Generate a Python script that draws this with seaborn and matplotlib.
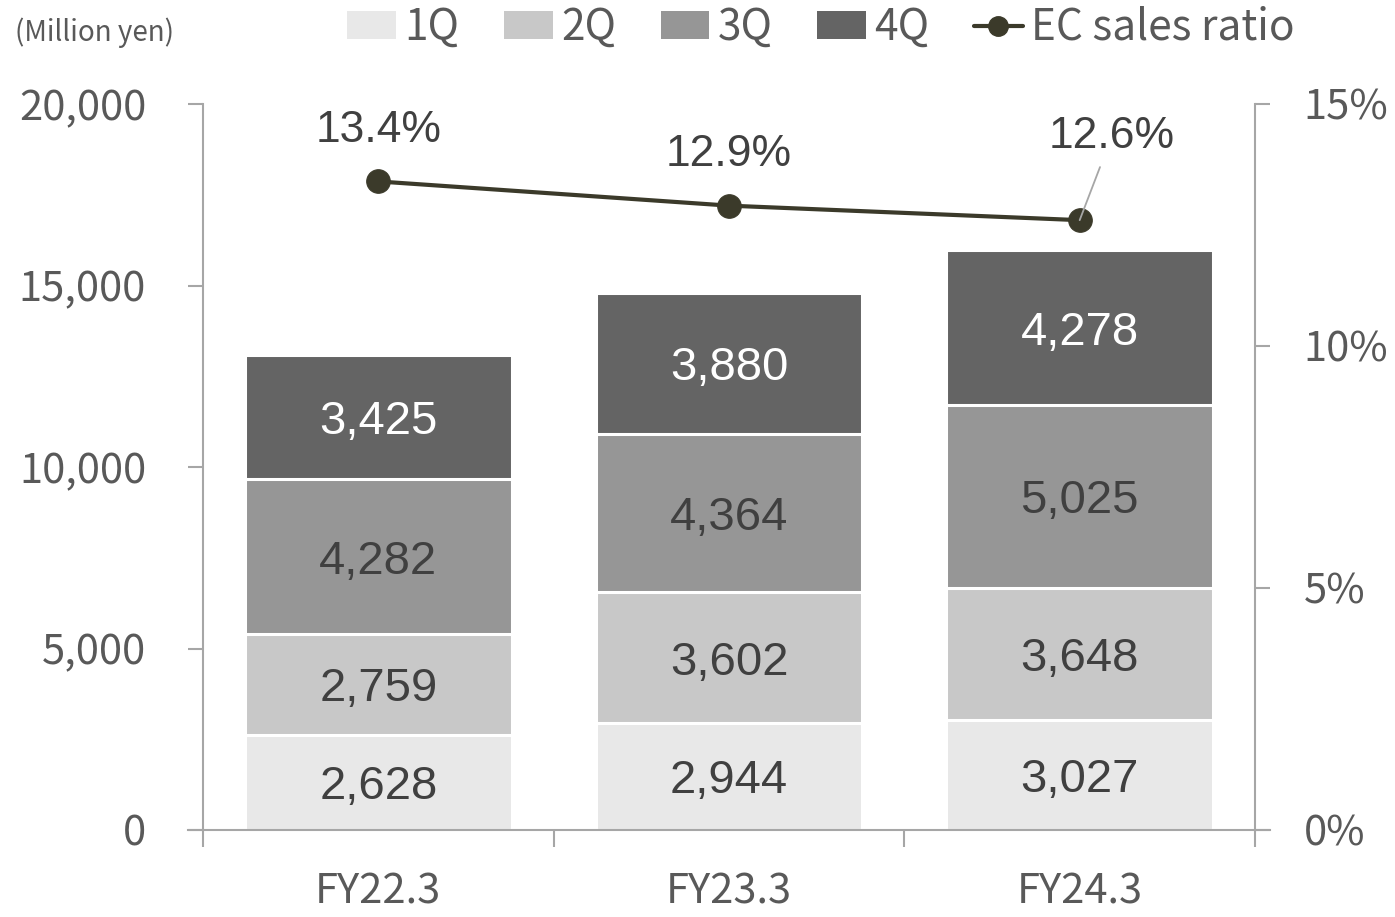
import numpy as np
import pandas as pd
import matplotlib
matplotlib.use("Agg")
import matplotlib.pyplot as plt
import seaborn as sns
from matplotlib.patches import Patch
from matplotlib.lines import Line2D

# --- data -------------------------------------------------------------
fiscal_years = ["FY22.3", "FY23.3", "FY24.3"]
quarters = ["1Q", "2Q", "3Q", "4Q"]
sales_1q = [2628, 2944, 3027]
sales_2q = [2759, 3602, 3648]
sales_3q = [4282, 4364, 5025]
sales_4q = [3425, 3880, 4278]
ec_ratio = [13.4, 12.9, 12.6]
yticks_left = [0, 5000, 10000, 15000, 20000]
yticks_right = [0, 5, 10, 15]

quarter_colors = ["#e8e8e8", "#c8c8c8", "#969696", "#646464"]
label_colors = ["#404040", "#404040", "#404040", "#ffffff"]
line_color = "#3b3a2a"
axis_grey = "#a6a6a6"
text_grey = "#595959"

sns.set_theme(style="white")
plt.rcParams["font.family"] = ["Noto Sans CJK JP", "DejaVu Sans"]

df = pd.DataFrame({"year": fiscal_years, "1Q": sales_1q, "2Q": sales_2q,
                   "3Q": sales_3q, "4Q": sales_4q})
cum = df[quarters].cumsum(axis=1)

fig = plt.figure(figsize=(13.95, 9.17), dpi=100)
ax = fig.add_axes([203 / 1395, 87 / 917, 1052 / 1395, 726 / 917])

# stacked bars: draw cumulative totals from the top segment down
for q, color in reversed(list(zip(quarters, quarter_colors))):
    sns.barplot(data=cum.assign(year=df["year"]), x="year", y=q, ax=ax,
                color=color, width=0.76, edgecolor="white", linewidth=2.2,
                saturation=1, order=fiscal_years)

# segment value labels
for i in range(len(fiscal_years)):
    base = 0
    for q, tc in zip(quarters, label_colors):
        v = df.loc[i, q]
        ax.annotate(f"{v:,}", (i, base + v / 2), xytext=(0, -3.5),
                    textcoords="offset points", ha="center", va="center",
                    fontsize=34, color=tc, family="Liberation Sans")
        base += v

ax.set_xlim(-0.5, 2.5)
ax.set_ylim(0, 20000)
ax.set_xlabel("")
ax.set_ylabel("")
ax.set_yticks(yticks_left)
ax.set_yticklabels([f"{t:,}" for t in yticks_left])
ax.set_xticks(range(len(fiscal_years)))
ax.set_xticklabels(fiscal_years)
ax.set_xticks([-0.5, 0.5, 1.5, 2.5], minor=True)
ax.tick_params(axis="x", which="major", length=0, pad=30, labelsize=30,
               labelcolor=text_grey)
ax.tick_params(axis="x", which="minor", length=12, width=1.5, color=axis_grey,
               direction="out", bottom=True)
ax.tick_params(axis="y", which="major", length=11, width=1.5, color=axis_grey,
               direction="out", left=True, pad=30, labelsize=30,
               labelcolor=text_grey)
for s in ["left", "bottom"]:
    ax.spines[s].set_color(axis_grey)
    ax.spines[s].set_linewidth(1.5)
ax.spines["top"].set_visible(False)
ax.spines["right"].set_visible(False)
ax.spines["bottom"].set_bounds(-0.5 - 15 / 1052 * 3, 2.5 + 15 / 1052 * 3)

# EC sales ratio on the secondary axis
ax2 = ax.twinx()
xpos = np.arange(len(fiscal_years))
sns.lineplot(x=xpos, y=ec_ratio, ax=ax2, color=line_color, linewidth=3,
             marker="o", markersize=17, markeredgecolor=line_color)
ax2.set_ylim(0, 15)
ax2.set_yticks(yticks_right)
ax2.set_yticklabels([f"{t}%" for t in yticks_right])
ax2.tick_params(axis="y", length=11, width=1.5, color=axis_grey,
                direction="out", right=True, pad=24, labelsize=30,
                labelcolor=text_grey)
for s in ["left", "top", "bottom"]:
    ax2.spines[s].set_visible(False)
ax2.spines["right"].set_color(axis_grey)
ax2.spines["right"].set_linewidth(1.5)
ax2.set_xlim(-0.5, 2.5)

offsets = [(0, 37), (0, 37), (23, 60)]
for x, r, off in zip(xpos, ec_ratio, offsets):
    if off[0] == 0:
        ax2.annotate(f"{r}%", (x, r), xytext=off, textcoords="offset points",
                     ha="center", va="center", fontsize=32,
                     color="#404040", family="Liberation Sans")
    else:
        ax2.annotate(f"{r}%", (x, r), xytext=off, textcoords="offset points",
                     ha="center", va="center", fontsize=32,
                     color="#404040", family="Liberation Sans",
                     arrowprops=dict(arrowstyle="-", color="#a6a6a6", lw=1.3,
                                     shrinkA=5, shrinkB=0))

# unit note and legend
fig.text(15 / 1395, 1 - 33 / 917, "(Million yen)", ha="left", va="center",
         fontsize=20, color=text_grey)
handles = [Patch(facecolor=c, edgecolor="none") for c in quarter_colors]
handles.append(Line2D([0], [0], color=line_color, linewidth=3, marker="o",
                      markersize=14))
leg = fig.legend(handles, quarters + ["EC sales ratio"], loc="center",
                 bbox_to_anchor=(821 / 1395, 1 - 28 / 917), ncol=5,
                 frameon=False, fontsize=30.5, handlelength=1.15,
                 handleheight=0.62, handletextpad=0.2, columnspacing=1.05,
                 borderpad=0, labelcolor=text_grey)

fig.savefig("out.png", dpi=100)
